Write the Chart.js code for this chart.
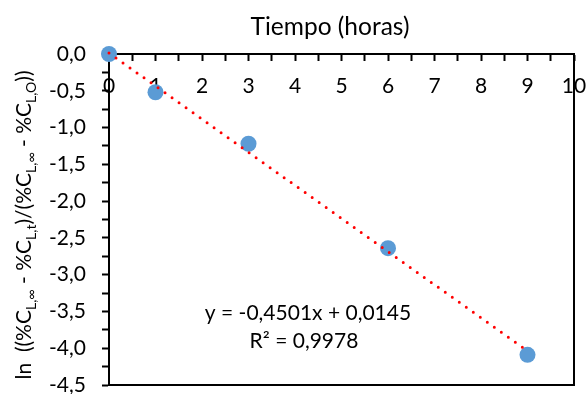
<!DOCTYPE html>
<html>
<head>
<meta charset="utf-8">
<script src="https://cdn.jsdelivr.net/npm/chart.js@4.4.1/dist/chart.umd.min.js"></script>
<style>
  html, body { margin: 0; padding: 0; background: #fff; }
</style>
</head>
<body>
<canvas id="grafico" width="586" height="394"></canvas>
<script>
// Datos
const tiempoHoras = [0, 1, 3, 6, 9];
const lnValores = [0, -0.52, -1.22, -2.64, -4.09];

// Línea de tendencia: extremos de la recta ajustada
const tendenciaX = [0, 9];
const tendenciaY = [0.0145, -4.0364];

// Límites de los ejes
const limitesX = [0, 10];
const limitesY = [-4.5, 0];

const tituloX = 'Tiempo (horas)';
const ecuacion = ['y = -0,4501x + 0,0145', 'R² = 0,9978'];
// Título del eje y por partes: [texto, subíndice]
const tituloY = [
  ['ln  ((%C', false], ['L,∞', true], [' - %C', false], ['L,t', true],
  [')/(%C', false], ['L,∞', true], [' - %C', false], ['L,O', true], ['))', false]
];

const fuente = 'Lato';
Chart.defaults.font.family = fuente;
Chart.defaults.color = '#000';

const coma = v => v.toFixed(1).replace('.', ',');

// Dibuja los títulos (con subíndices) y la ecuación
const textos = {
  id: 'textos',
  afterDraw(chart) {
    const ctx = chart.ctx;
    ctx.save();
    ctx.fillStyle = '#000';
    ctx.textBaseline = 'alphabetic';

    ctx.font = '24.5px ' + fuente;
    ctx.textAlign = 'center';
    ctx.fillText(tituloX, 330, 35);

    ctx.font = '21px ' + fuente;
    ctx.fillText(ecuacion[0], 308, 320);
    ctx.fillText(ecuacion[1], 304, 348);

    // eje y girado
    const grande = 21, chico = 14;
    let total = 0;
    tituloY.forEach(([t, sub]) => {
      ctx.font = (sub ? chico : grande) + 'px ' + fuente;
      total += ctx.measureText(t).width;
    });
    ctx.translate(31, 225);
    ctx.rotate(-Math.PI / 2);
    ctx.textAlign = 'left';
    let u = -total / 2;
    tituloY.forEach(([t, sub]) => {
      ctx.font = (sub ? chico : grande) + 'px ' + fuente;
      ctx.fillText(t, u, sub ? 5 : 0);
      u += ctx.measureText(t).width;
    });
    ctx.restore();
  }
};

const config = {
  type: 'scatter',
  data: {
    datasets: [
      {
        // línea de tendencia punteada
        data: tendenciaX.map((x, i) => ({ x: x, y: tendenciaY[i] })),
        showLine: true,
        borderColor: '#FF0000',
        borderWidth: 3,
        borderDash: [0, 8.6],
        borderCapStyle: 'round',
        pointRadius: 0,
        clip: false,
        order: 0
      },
      {
        data: tiempoHoras.map((x, i) => ({ x: x, y: lnValores[i] })),
        backgroundColor: '#5B9BD5',
        borderWidth: 0,
        pointRadius: 8,
        clip: false,
        order: 1
      }
    ]
  },
  options: {
    responsive: false,
    animation: false,
    layout: { autoPadding: false, padding: { left: 0, right: 12, top: 54, bottom: 9 } },
    plugins: { legend: { display: false }, tooltip: { enabled: false } },
    scales: {
      x: {
        type: 'linear',
        position: { y: 0 },
        min: limitesX[0], max: limitesX[1],
        ticks: {
          stepSize: 0.5, autoSkip: false, maxRotation: 0, padding: 14,
          font: { size: 21 },
          callback: v => Number.isInteger(v) ? String(v) : ''
        },
        grid: { drawOnChartArea: false, tickLength: 6, tickColor: '#000', tickWidth: 2 },
        border: { color: '#000', width: 2 },
        afterFit: s => { s.height = 0; s.paddingLeft = 0; s.paddingRight = 0; }
      },
      y: {
        type: 'linear',
        position: 'left',
        min: limitesY[0], max: limitesY[1],
        ticks: {
          stepSize: 0.25, autoSkip: false, padding: 16,
          font: { size: 21 },
          callback: v => Number.isInteger(v * 2) ? coma(v) : ''
        },
        grid: { drawOnChartArea: false, tickLength: 7, tickColor: '#000', tickWidth: 2 },
        border: { color: '#000', width: 2 },
        afterFit: s => { s.width = 109; s.paddingTop = 0; s.paddingBottom = 0; }
      },
      x2: {
        type: 'linear',
        position: 'bottom',
        min: limitesX[0], max: limitesX[1],
        ticks: { display: false },
        grid: { drawOnChartArea: false, drawTicks: false },
        border: { color: '#000', width: 2 }
      },
      y2: {
        type: 'linear',
        position: 'right',
        min: limitesY[0], max: limitesY[1],
        ticks: { display: false },
        grid: { drawOnChartArea: false, drawTicks: false },
        border: { color: '#000', width: 2 }
      }
    }
  },
  plugins: [textos]
};

new Chart(document.getElementById('grafico'), config);
</script>
</body>
</html>
